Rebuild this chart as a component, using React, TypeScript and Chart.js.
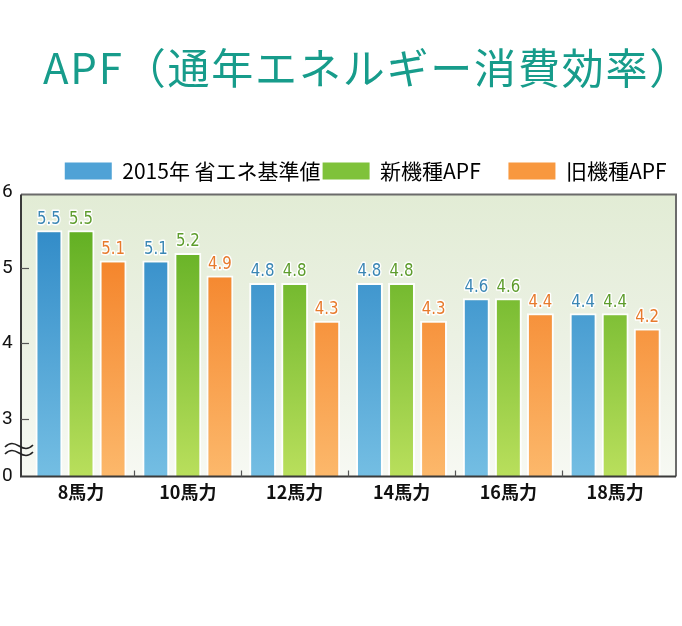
import React, { useEffect, useRef } from 'react';
import { Chart, registerables } from 'chart.js';

Chart.register(...registerables);

// ---- data ----
const TITLE = 'APF（通年エネルギー消費効率）';
const CATEGORIES = ['8馬力', '10馬力', '12馬力', '14馬力', '16馬力', '18馬力'];
const SERIES_NAMES = ['2015年 省エネ基準値', '新機種APF', '旧機種APF'];
const STANDARD_2015 = [5.5, 5.1, 4.8, 4.8, 4.6, 4.4];
const NEW_MODEL = [5.5, 5.2, 4.8, 4.8, 4.6, 4.4];
const OLD_MODEL = [5.1, 4.9, 4.3, 4.3, 4.4, 4.2];
const Y_TICK_VALUES = [3, 4, 5, 6];
const BREAK_LABEL = '0';
// the axis is broken: "0" is shown at the bottom of the scale
const AXIS_BOTTOM = 2.238;
const AXIS_TOP = 6.013;

// ---- styles ----
const BAR_TOP = ['#2884c4', '#54a81a', '#f27518'];
const BAR_BOTTOM = ['#74bee3', '#b9df5c', '#fcb86b'];
const LEGEND_COLORS = ['#4fa2d6', '#7fc23a', '#f8983f'];
const LABEL_COLORS = ['#3a86b4', '#5d9c2c', '#e77a2c'];

const verticalGradient = (i: number) => (c: any) => {
  const chart = c.chart;
  const a = chart.chartArea;
  if (!a) return BAR_TOP[i];
  const g = chart.ctx.createLinearGradient(0, a.top, 0, a.bottom);
  g.addColorStop(0, BAR_TOP[i]);
  g.addColorStop(1, BAR_BOTTOM[i]);
  return g;
};

const titlePlugin = {
  id: 'spacedTitle',
  afterDraw(chart: any) {
    const ctx = chart.ctx;
    ctx.save();
    ctx.font = '42px "Noto Sans CJK JP", sans-serif';
    (ctx as any).letterSpacing = '1.8px';
    ctx.fillStyle = '#179c8b';
    ctx.textAlign = 'left';
    ctx.textBaseline = 'middle';
    ctx.fillText(TITLE, 43, 68);
    ctx.restore();
  },
};

const backgroundPlugin = {
  id: 'frameBackground',
  beforeDatasetsDraw(chart: any) {
    const { ctx, chartArea: a, scales } = chart;
    const top = scales.y.getPixelForValue(6) + 2;
    const L = 21;
    const R = 676;
    const g = ctx.createLinearGradient(0, top, 0, a.bottom);
    g.addColorStop(0, '#e2ecd5');
    g.addColorStop(0.6, '#edf2e6');
    g.addColorStop(1, '#f7f9f3');
    ctx.save();
    ctx.fillStyle = g;
    ctx.fillRect(L, top, R - L, a.bottom - top);
    ctx.restore();
  },
};

const framePlugin = {
  id: 'frameLines',
  afterDatasetsDraw(chart: any) {
    const { ctx, chartArea: a, scales } = chart;
    const top = scales.y.getPixelForValue(6) + 2;
    const L = 21;
    const R = 676;
    const B = a.bottom;
    ctx.save();
    ctx.strokeStyle = '#6b6b6b';
    ctx.lineWidth = 2;
    ctx.beginPath();
    ctx.moveTo(L, top);
    ctx.lineTo(R, top);
    ctx.lineTo(R, B);
    ctx.stroke();
    ctx.strokeStyle = '#3a3a3a';
    ctx.beginPath();
    ctx.moveTo(L, top);
    ctx.lineTo(L, B);
    ctx.lineTo(R, B);
    ctx.stroke();
    ctx.lineWidth = 1.2;
    ctx.strokeStyle = '#555';
    Y_TICK_VALUES.slice(0, 3).forEach((v) => {
      const y = Math.round(scales.y.getPixelForValue(v)) + 0.5;
      ctx.beginPath();
      ctx.moveTo(L, y);
      ctx.lineTo(L + 8, y);
      ctx.stroke();
    });
    const xs = scales.x;
    for (let i = 0; i < CATEGORIES.length - 1; i++) {
      const x = Math.round((xs.getPixelForValue(i) + xs.getPixelForValue(i + 1)) / 2) + 0.5;
      ctx.beginPath();
      ctx.moveTo(x, B);
      ctx.lineTo(x, B - 6);
      ctx.stroke();
    }
    ctx.strokeStyle = '#222';
    ctx.lineWidth = 1.6;
    [446, 453].forEach((y) => {
      ctx.beginPath();
      ctx.moveTo(5, y + 1);
      ctx.bezierCurveTo(10, y - 4, 14, y - 3, 19, y);
      ctx.bezierCurveTo(24, y + 3, 28, y + 4, 33, y - 1);
      ctx.stroke();
    });
    ctx.restore();
  },
};

const valueLabelPlugin = {
  id: 'valueLabels',
  afterDatasetsDraw(chart: any) {
    const ctx = chart.ctx;
    chart.data.datasets.forEach((ds: any, i: number) => {
      const meta = chart.getDatasetMeta(i);
      meta.data.forEach((bar: any, j: number) => {
        const text = Number(ds.data[j]).toFixed(1);
        ctx.save();
        ctx.translate(bar.x, bar.y - 11);
        ctx.scale(0.88, 1);
        ctx.font = '17px "DejaVu Sans"';
        ctx.textAlign = 'center';
        ctx.textBaseline = 'middle';
        ctx.lineJoin = 'round';
        ctx.lineWidth = 3;
        ctx.strokeStyle = 'rgba(255,255,255,0.95)';
        ctx.strokeText(text, 0, 0);
        ctx.fillStyle = LABEL_COLORS[i];
        ctx.fillText(text, 0, 0);
        ctx.restore();
      });
    });
  },
};

export default function App() {
  const ref = useRef<HTMLCanvasElement>(null);

  useEffect(() => {
    const canvas = ref.current;
    if (!canvas) return;
    const seriesValues = [STANDARD_2015, NEW_MODEL, OLD_MODEL];
    const chart = new Chart(canvas, {
      type: 'bar',
      data: {
        labels: CATEGORIES,
        datasets: seriesValues.map((vals, i) => ({
          label: SERIES_NAMES[i],
          data: vals,
          backgroundColor: verticalGradient(i),
          borderColor: 'rgba(255,255,255,0.9)',
          borderWidth: 2,
          borderSkipped: 'start',
          barPercentage: 0.84,
          categoryPercentage: 0.9,
        })),
      },
      options: {
        responsive: false,
        animation: false,
        layout: { padding: { left: 0, right: 13.4, top: 158.5, bottom: 0 } },
        plugins: {
          title: { display: false },
          legend: {
            display: true,
            fullSize: false,
            align: 'end',
            labels: {
              boxWidth: 47,
              boxHeight: 17,
              padding: 2,
              color: '#111',
              font: { family: '"Noto Sans CJK JP", sans-serif', size: 21 },
              generateLabels: () =>
                SERIES_NAMES.map((n, i) => ({
                  text: i === 1 ? n + '\u3000 ' : n,
                  fillStyle: LEGEND_COLORS[i],
                  strokeStyle: LEGEND_COLORS[i],
                  lineWidth: 0,
                  datasetIndex: i,
                  hidden: false,
                })),
            },
          },
          tooltip: { enabled: false },
        },
        scales: {
          x: {
            grid: { display: false, drawTicks: false },
            border: { display: false },
            ticks: {
              color: '#111',
              padding: 5,
              font: { family: '"Noto Sans CJK JP", sans-serif', size: 18, weight: 'bold' },
            },
            afterFit: (s: any) => {
              s.height = 149.5;
            },
          },
          y: {
            min: AXIS_BOTTOM,
            max: AXIS_TOP,
            grid: { display: false, drawTicks: false },
            border: { display: false },
            afterBuildTicks: (s: any) => {
              s.ticks = [{ value: AXIS_BOTTOM }, ...Y_TICK_VALUES.map((v) => ({ value: v }))];
            },
            ticks: {
              color: '#111',
              padding: 15,
              font: { family: 'Roboto, sans-serif', size: 19 },
              callback: (v: any) => (Math.abs(v - AXIS_BOTTOM) < 1e-6 ? BREAK_LABEL : String(v)),
            },
            afterFit: (s: any) => {
              s.width = 27.6;
            },
          },
        },
      },
      plugins: [backgroundPlugin, framePlugin, valueLabelPlugin, titlePlugin],
    });
    return () => chart.destroy();
  }, []);

  return (
    <div style={{ position: 'absolute', left: 0, top: 0, width: 682, height: 626, background: '#fff' }}>
      <canvas ref={ref} width={682} height={626} style={{ display: 'block' }} />
    </div>
  );
}
